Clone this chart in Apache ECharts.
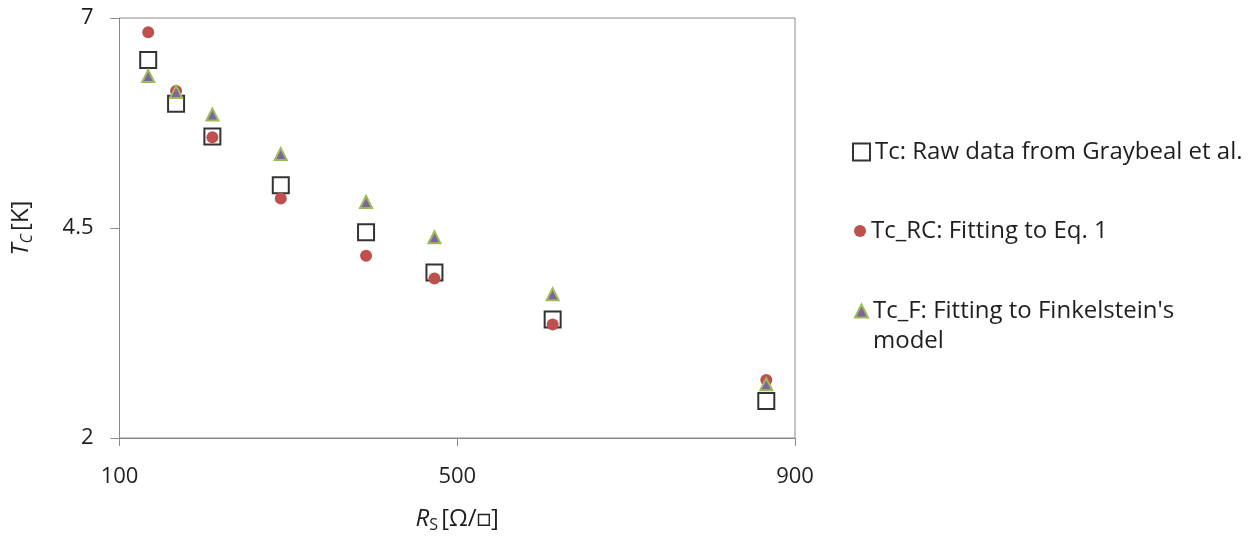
<!DOCTYPE html>
<html>
<head>
<meta charset="utf-8">
<script src="https://cdn.jsdelivr.net/npm/echarts@6/dist/echarts.min.js"></script>
<style>
  html, body { margin: 0; padding: 0; background: #fff; }
  #chart { width: 1254px; height: 540px; }
</style>
</head>
<body>
<div id="chart"></div>
<script>
// Sheet resistance R_S (Ω/□) of each film
const sheetResistance = [134, 167, 210, 291, 392, 473, 613, 866];
// Critical temperature (K): measured and the two fits
const tcRaw = [6.50, 5.98, 5.59, 5.01, 4.45, 3.97, 3.41, 2.44];
const tcRC  = [6.83, 6.13, 5.58, 4.85, 4.17, 3.90, 3.35, 2.69];
const tcF   = [6.31, 6.12, 5.85, 5.38, 4.81, 4.39, 3.71, 2.64];

const seriesNames = [
  'Tc: Raw data from Graybeal et al.',
  'Tc_RC: Fitting to Eq. 1',
  "Tc_F: Fitting to Finkelstein's model"
];
const xTicks = [100, 500, 900];
const yTicks = [2, 4.5, 7];

const FONT = '"Open Sans", Lato, sans-serif';
const TEXT = '#1f1f1f';
const AXIS = '#8a8a8a';
const pair = (xs, ys) => xs.map((x, i) => [x, ys[i]]);

const chart = echarts.init(document.getElementById('chart'));

const legendBase = {
  orient: 'vertical',
  itemGap: 10,
  textStyle: { fontFamily: FONT, fontSize: 24, color: TEXT, lineHeight: 30 }
};

// The long entry wraps after "Finkelstein's"; a leading blank line keeps
// the first text line level with the marker.
const legendLabel = name =>
  name === seriesNames[2] ? "\nTc_F: Fitting to Finkelstein's\nmodel" : name;

chart.setOption({
  animation: false,
  backgroundColor: '#fff',
  grid: {
    left: 119.5, right: 459, top: 18, bottom: 102,
    show: true, borderColor: AXIS, borderWidth: 1
  },
  legend: [
    Object.assign({}, legendBase, { left: 847, top: 132, itemWidth: 17, itemHeight: 17, data: [seriesNames[0]], formatter: legendLabel }),
    Object.assign({}, legendBase, { left: 849, top: 211, itemWidth: 12, itemHeight: 12, data: [seriesNames[1]], formatter: legendLabel }),
    Object.assign({}, legendBase, { left: 849, top: 261, itemWidth: 13, itemHeight: 13, data: [seriesNames[2]], formatter: legendLabel })
  ],
  xAxis: {
    type: 'value',
    min: xTicks[0], max: xTicks[xTicks.length - 1], interval: xTicks[1] - xTicks[0],
    name: '{i|R}{s|S} {n|[Ω/□]}',
    nameLocation: 'middle',
    nameGap: 67,
    nameTextStyle: {
      fontFamily: FONT, color: TEXT,
      rich: {
        i: { fontSize: 24, fontStyle: 'italic', fontFamily: FONT, color: TEXT },
        s: { fontSize: 16, fontFamily: FONT, color: TEXT, padding: [12, 0, 0, 0] },
        n: { fontSize: 24, fontFamily: FONT, color: TEXT }
      }
    },
    axisLine: { show: true, lineStyle: { color: AXIS, width: 1 } },
    axisTick: { show: true, inside: false, length: 8, lineStyle: { color: AXIS } },
    axisLabel: { fontFamily: FONT, fontSize: 22, color: TEXT, margin: 28 },
    splitLine: { show: false }
  },
  yAxis: {
    type: 'value',
    min: yTicks[0], max: yTicks[yTicks.length - 1], interval: yTicks[1] - yTicks[0],
    name: '{i|T}{s|C} {n|[K]}',
    nameLocation: 'middle',
    nameGap: 84,
    nameRotate: 90,
    nameTextStyle: {
      fontFamily: FONT, color: TEXT,
      rich: {
        i: { fontSize: 24, fontStyle: 'italic', fontFamily: FONT, color: TEXT },
        s: { fontSize: 16, fontStyle: 'italic', fontFamily: FONT, color: TEXT, padding: [12, 0, 0, 0] },
        n: { fontSize: 24, fontFamily: FONT, color: TEXT }
      }
    },
    axisLine: { show: true, lineStyle: { color: AXIS, width: 1 } },
    axisTick: { show: true, inside: false, length: 9, lineStyle: { color: AXIS } },
    axisLabel: {
      fontFamily: FONT, fontSize: 22, color: TEXT, margin: 26,
      formatter: v => String(v)
    },
    splitLine: { show: false }
  },
  series: [
    {
      name: seriesNames[0],
      type: 'scatter',
      data: pair(sheetResistance, tcRaw),
      symbol: 'rect',
      symbolSize: 16,
      itemStyle: { color: '#ffffff', borderColor: '#000000', borderWidth: 2 },
      z: 2
    },
    {
      name: seriesNames[1],
      type: 'scatter',
      data: pair(sheetResistance, tcRC),
      symbol: 'circle',
      symbolSize: 12,
      itemStyle: { color: '#C0504D', opacity: 1 },
      z: 3
    },
    {
      name: seriesNames[2],
      type: 'scatter',
      data: pair(sheetResistance, tcF),
      symbol: 'triangle',
      symbolSize: 12,
      itemStyle: { color: '#8064A2', borderColor: '#9BBB59', borderWidth: 2, opacity: 1 },
      z: 4
    }
  ]
});
</script>
</body>
</html>
